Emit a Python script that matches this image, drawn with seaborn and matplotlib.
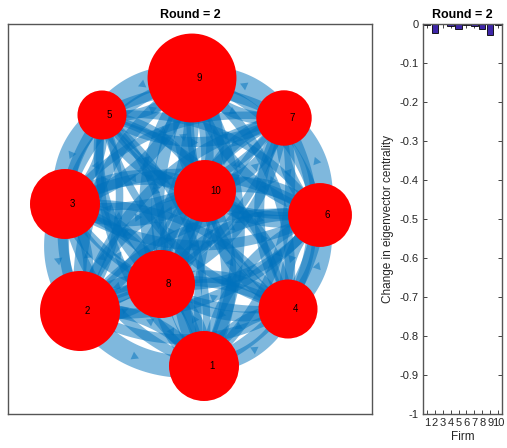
import numpy as np
import pandas as pd
import matplotlib
matplotlib.use("Agg")
import matplotlib.pyplot as plt
import seaborn as sns

# ---- data -------------------------------------------------------------
firms = [1, 2, 3, 4, 5, 6, 7, 8, 9, 10]
centrality_change = [-0.002, -0.024, -0.001, -0.004, -0.014,
                     -0.002, -0.004, -0.014, -0.027, -0.002]

# network layout (node coordinates) and node marker diameters (pt)
node_x = [1.96, 0.72, 0.57, 2.80, 0.94, 3.12, 2.76, 1.53, 1.84, 1.97]
node_y = [0.48, 1.03, 2.10, 1.05, 2.99, 1.99, 2.96, 1.30, 3.36, 2.23]
node_size = [50.4, 57.6, 50.4, 42.5, 35.3, 46.0, 39.9, 49.0, 64.0, 44.6]

# directed edge weights (row = source firm, column = target firm)
edge_weight = [
    [0, 5, 4, 6, 3, 5, 4, 6, 5, 6],
    [9, 0, 4, 4, 3, 4, 3, 7, 6, 5],
    [4, 10, 0, 3, 4, 4, 3, 6, 5, 7],
    [5, 4, 3, 0, 3, 8, 4, 5, 4, 5],
    [3, 4, 9, 3, 0, 3, 4, 4, 4, 5],
    [4, 3, 4, 5, 3, 0, 9, 5, 4, 6],
    [3, 4, 3, 4, 4, 5, 0, 4, 9, 5],
    [6, 6, 5, 4, 3, 4, 4, 0, 5, 6],
    [5, 5, 4, 3, 9, 4, 5, 5, 0, 7],
    [6, 5, 6, 4, 4, 5, 5, 6, 7, 0],
]

round_title = "Round = 2"

# ---- style ------------------------------------------------------------
sns.set_theme(style="white")
plt.rcParams["font.family"] = ["Liberation Sans", "DejaVu Sans"]
plt.rcParams["axes.unicode_minus"] = False

edge_color = "#0072BD"
node_color = "#FF0000"
bar_color = "#3E26A8"
frame_color = "#555555"
text_color = "#262626"

fig = plt.figure(figsize=(5.07, 4.48), dpi=100)
ax_net = fig.add_axes([8 / 507, 34 / 448, 364 / 507, 390 / 448])
ax_bar = fig.add_axes([423 / 507, 34 / 448, 79 / 507, 390 / 448])

# ---- network ----------------------------------------------------------
bend = 0.28
t = np.linspace(0, 1, 60)[:, None]
pts = np.column_stack([node_x, node_y])
n = len(firms)
for i in range(n):
    for j in range(n):
        w = edge_weight[i][j]
        if i == j or w <= 0:
            continue
        p0, p1 = pts[i], pts[j]
        d = p1 - p0
        normal = np.array([d[1], -d[0]])
        ctrl = (p0 + p1) / 2 + bend * normal
        curve = (1 - t) ** 2 * p0 + 2 * (1 - t) * t * ctrl + t ** 2 * p1
        ax_net.plot(curve[:, 0], curve[:, 1], color=edge_color, alpha=0.5,
                    lw=w * 1.8, solid_capstyle="butt", zorder=1)
        mid = 0.25 * p0 + 0.5 * ctrl + 0.25 * p1
        ang = np.degrees(np.arctan2(d[1], d[0]))
        ax_net.plot(mid[0], mid[1], marker=(3, 0, ang - 90), ms=7,
                    color=edge_color, alpha=0.5, mew=0, zorder=1)

nodes = pd.DataFrame({"x": node_x, "y": node_y, "firm": firms,
                      "s": np.array(node_size) ** 2})
ax_net.scatter(nodes["x"], nodes["y"], s=nodes["s"], color=node_color,
               linewidths=0, zorder=3)
for _, r in nodes.iterrows():
    ax_net.text(r["x"] + 0.05, r["y"], str(int(r["firm"])), fontsize=7,
                ha="left", va="center", color="black", zorder=4)

ax_net.set_xlim(0, 3.64)
ax_net.set_ylim(0, 3.90)
ax_net.set_xticks([])
ax_net.set_yticks([])
for sp in ax_net.spines.values():
    sp.set_color(frame_color)
    sp.set_linewidth(1.0)
ax_net.set_title(round_title, fontsize=9, fontweight="bold", color="black",
                 pad=4)

# ---- bar chart --------------------------------------------------------
bars = pd.DataFrame({"Firm": firms, "change": centrality_change})
sns.barplot(data=bars, x="Firm", y="change", color=bar_color,
            saturation=1, edgecolor="black", linewidth=0.6, width=0.8,
            ax=ax_bar)
ax_bar.set_xlim(-0.5, 9.5)
ax_bar.set_ylim(-1, 0)
yt = np.round(np.arange(-1, 0.001, 0.1), 1)
ax_bar.set_yticks(yt)
ax_bar.set_yticklabels(["0" if v == 0 else ("-1" if v == -1 else f"{v:.1f}")
                        for v in yt])
ax_bar.set_xticks(range(len(firms)))
ax_bar.set_xticklabels([str(f) for f in firms])
ax_bar.tick_params(direction="in", length=3, width=0.6, top=True, right=True,
                   bottom=True, left=True, labelsize=8, colors=text_color,
                   pad=3)
for sp in ax_bar.spines.values():
    sp.set_color(frame_color)
    sp.set_linewidth(1.0)
ax_bar.set_xlabel("Firm", fontsize=8.5, color=text_color, labelpad=2)
ax_bar.set_ylabel("Change in eigenvector centrality", fontsize=8.5,
                  color=text_color, labelpad=4)
ax_bar.set_title(round_title, fontsize=9, fontweight="bold", color="black",
                 pad=4)

fig.savefig("out.png", dpi=100)
